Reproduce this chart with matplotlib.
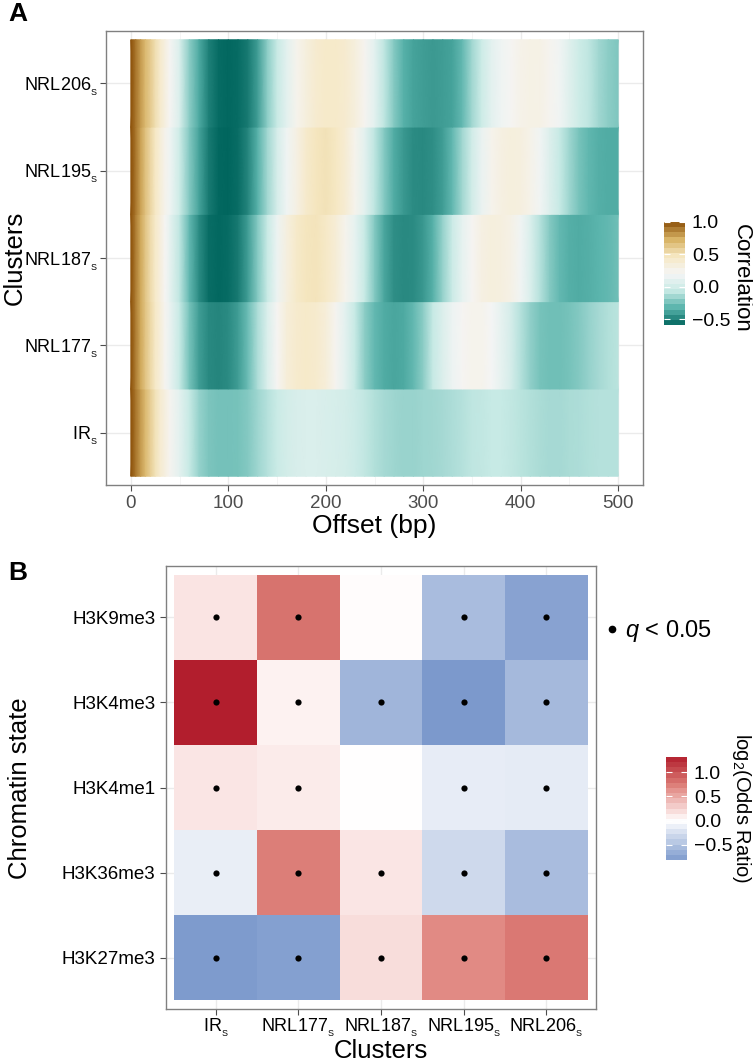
import numpy as np
import matplotlib
matplotlib.use('Agg')
import matplotlib.pyplot as plt
from matplotlib.colors import LinearSegmentedColormap, Normalize
from matplotlib.lines import Line2D
import matplotlib.cm as cm

plt.rcParams['font.family'] = ['Liberation Sans', 'DejaVu Sans']
plt.rcParams['mathtext.fontset'] = 'custom'
plt.rcParams['mathtext.rm'] = 'Liberation Sans'
plt.rcParams['mathtext.it'] = 'Liberation Sans:italic'
plt.rcParams['mathtext.bf'] = 'Liberation Sans:bold'

# ---------------- Panel A data ----------------
clusters = ['IR', 'NRL177', 'NRL187', 'NRL195', 'NRL206']
offsets = [0, 5, 10, 15, 20, 25, 30, 35, 40, 50, 60, 70, 80, 90, 100, 110, 120, 130, 140,
           150, 160, 170, 180, 190, 200, 210, 220, 230, 240, 250, 260, 270, 280, 290, 300,
           310, 320, 330, 340, 350, 360, 370, 380, 390, 400, 410, 420, 430, 440, 450, 460,
           470, 480, 490, 500]

corr_IR = [1.0, 0.9, 0.8, 0.7, 0.6, 0.5, 0.4, 0.32, 0.24, 0.1, -0.06, -0.18, -0.24, -0.26,
           -0.26, -0.25, -0.22, -0.16, -0.1, -0.04, 0.01, 0.04, 0.05, 0.05, 0.04, 0.03, 0.01,
           -0.03, -0.07, -0.11, -0.14, -0.16, -0.17, -0.17, -0.16, -0.15, -0.14, -0.12, -0.1,
           -0.08, -0.07, -0.06, -0.06, -0.07, -0.09, -0.11, -0.13, -0.14, -0.14, -0.13, -0.12,
           -0.11, -0.1, -0.1, -0.1]
corr_NRL177 = [1.0, 0.88, 0.76, 0.65, 0.55, 0.45, 0.35, 0.24, 0.14, -0.06, -0.25, -0.4, -0.47,
               -0.48, -0.46, -0.4, -0.28, -0.12, 0.05, 0.22, 0.35, 0.41, 0.43, 0.41, 0.35, 0.24,
               0.1, -0.06, -0.2, -0.3, -0.35, -0.37, -0.36, -0.3, -0.2, -0.06, 0.06, 0.16, 0.22,
               0.25, 0.25, 0.2, 0.12, 0.02, -0.1, -0.19, -0.25, -0.27, -0.27, -0.25, -0.22,
               -0.18, -0.14, -0.11, -0.09]
corr_NRL187 = [1.0, 0.88, 0.76, 0.64, 0.54, 0.44, 0.34, 0.22, 0.12, -0.08, -0.3, -0.46, -0.56,
               -0.58, -0.57, -0.52, -0.4, -0.22, -0.05, 0.15, 0.32, 0.43, 0.48, 0.49, 0.45, 0.37,
               0.25, 0.12, -0.05, -0.22, -0.37, -0.45, -0.47, -0.46, -0.42, -0.33, -0.18, -0.03,
               0.12, 0.22, 0.3, 0.33, 0.32, 0.28, 0.18, 0.05, -0.1, -0.22, -0.3, -0.34, -0.35,
               -0.34, -0.32, -0.3, -0.27]
corr_NRL195 = [1.0, 0.9, 0.78, 0.66, 0.56, 0.46, 0.36, 0.26, 0.17, -0.02, -0.22, -0.38, -0.52,
               -0.58, -0.59, -0.56, -0.48, -0.33, -0.15, 0.02, 0.17, 0.3, 0.42, 0.48, 0.5, 0.47,
               0.38, 0.25, 0.1, -0.08, -0.22, -0.35, -0.42, -0.46, -0.47, -0.45, -0.4, -0.3,
               -0.15, 0.0, 0.14, 0.25, 0.31, 0.33, 0.32, 0.27, 0.18, 0.06, -0.06, -0.16, -0.25,
               -0.31, -0.34, -0.35, -0.35]
corr_NRL206 = [1.0, 0.9, 0.8, 0.7, 0.62, 0.52, 0.42, 0.32, 0.22, 0.05, -0.2, -0.36, -0.5, -0.57,
               -0.58, -0.57, -0.52, -0.4, -0.2, -0.05, 0.1, 0.25, 0.33, 0.4, 0.43, 0.43, 0.4,
               0.33, 0.24, 0.1, -0.08, -0.22, -0.33, -0.38, -0.4, -0.41, -0.4, -0.38, -0.3,
               -0.15, -0.02, 0.1, 0.17, 0.22, 0.27, 0.29, 0.28, 0.24, 0.18, 0.08, -0.02, -0.08,
               -0.15, -0.2, -0.23]
corr_rows = [corr_IR, corr_NRL177, corr_NRL187, corr_NRL195, corr_NRL206]

# ---------------- Panel B data ----------------
states = ['H3K27me3', 'H3K36me3', 'H3K4me1', 'H3K4me3', 'H3K9me3']   # bottom -> top
lor_H3K27me3 = [-0.80, -0.76, 0.20, 0.68, 0.77]
lor_H3K36me3 = [-0.14, 0.74, 0.15, -0.30, -0.54]
lor_H3K4me1 = [0.15, 0.12, 0.00, -0.15, -0.16]
lor_H3K4me3 = [1.31, 0.08, -0.59, -0.81, -0.56]
lor_H3K9me3 = [0.16, 0.80, 0.02, -0.54, -0.74]
lor_rows = [lor_H3K27me3, lor_H3K36me3, lor_H3K4me1, lor_H3K4me3, lor_H3K9me3]
sig_H3K27me3 = [1, 1, 1, 1, 1]
sig_H3K36me3 = [1, 1, 1, 1, 1]
sig_H3K4me1 = [1, 1, 0, 1, 1]
sig_H3K4me3 = [1, 1, 1, 1, 1]
sig_H3K9me3 = [1, 1, 0, 1, 1]
sig_rows = [sig_H3K27me3, sig_H3K36me3, sig_H3K4me1, sig_H3K4me3, sig_H3K9me3]

# ---------------- figure ----------------
W, H = 753, 1062
fig = plt.figure(figsize=(W / 100, H / 100), dpi=100)


def fa(l, t, r, b):
    return [l / W, 1 - b / H, (r - l) / W, (b - t) / H]


def sublab(name):
    return name + r'$_{_\mathregular{S}}$'


FRAME = '#808080'
GRID = '#ebebeb'
TICKC = '#4d4d4d'
TICKFS = 13
TITLEFS = 18.5

# ---------------- Panel A ----------------
axA = fig.add_axes(fa(106, 31, 643, 485))
cmapA = LinearSegmentedColormap.from_list(
    'brbg', ['#01665e', '#5ab4ac', '#c7eae5', '#f5f5f5', '#f6e8c3', '#d8b365', '#8c510a'])
vminA, vmaxA = -0.59, 1.0
normA = Normalize(vminA, vmaxA)
off = np.array(offsets, dtype=float)
for i, vals in enumerate(corr_rows):
    v = np.array(vals, dtype=float)
    X = np.vstack([off, off])
    Y = np.vstack([np.full_like(off, i + 0.5), np.full_like(off, i + 1.5)])
    C = np.vstack([v, v])
    axA.pcolormesh(X, Y, C, shading='gouraud', cmap=cmapA, norm=normA, zorder=2)

axA.set_xlim(-25.5, 525.5)
axA.set_ylim(0.4, 5.6)
axA.set_xticks(range(0, 501, 100))
axA.set_xticks(range(50, 500, 100), minor=True)
axA.set_yticks(range(1, 6))
axA.set_yticklabels([sublab(c) for c in clusters], fontsize=TICKFS, color='black')
axA.tick_params(axis='x', labelsize=13.5, labelcolor=TICKC, colors=TICKC, length=4,
                width=0.8)
axA.tick_params(axis='y', colors=TICKC, length=4, width=0.8, labelcolor='black', pad=2)
axA.tick_params(axis='x', which='minor', length=0)
axA.grid(True, which='major', color=GRID, lw=1.0, zorder=0)
axA.grid(True, which='minor', axis='x', color='#f4f4f4', lw=0.6, zorder=0)
axA.set_axisbelow(True)
for s in axA.spines.values():
    s.set_color(FRAME)
    s.set_linewidth(1.0)
axA.set_xlabel('Offset (bp)', fontsize=19, labelpad=1)
fig.text(22 / W, 1 - 258 / H, 'Clusters', rotation=90, fontsize=TITLEFS,
         ha='center', va='baseline', rotation_mode='anchor')
fig.text(8 / W, 1 - 14 / H, 'A', fontsize=19, fontweight='bold', va='center', ha='left')

caxA = fig.add_axes(fa(664, 222, 685, 325))
smA = cm.ScalarMappable(norm=normA, cmap=cmapA)
cbA = fig.colorbar(smA, cax=caxA, boundaries=np.linspace(vminA, vmaxA, 21),
                   ticks=[-0.5, 0.0, 0.5, 1.0])
cbA.outline.set_visible(False)
cbA.ax.set_yticklabels(['\u22120.5', '0.0', '0.5', '1.0'])
caxA.tick_params(axis='y', left=True, right=True, direction='in', color='white', length=4,
                 width=0.8, labelsize=14, labelleft=False, labelright=True, pad=5)
fig.text(741 / W, 1 - 278 / H, 'Correlation', rotation=270, fontsize=16,
         ha='center', va='center')

# ---------------- Panel B ----------------
axB = fig.add_axes(fa(166, 566, 596, 1009))
lim = 1.31
cmapB = LinearSegmentedColormap.from_list(
    'rdbu2', [(0.0, '#2d5cae'), (0.5, '#ffffff'), (0.56, '#fae4e3'), (0.76, '#e18a84'),
              (0.80, '#d97671'), (1.0, '#b21e2d')])
normB = Normalize(-lim, lim)
M = np.array(lor_rows, dtype=float)
xe = np.arange(0.5, 6.0, 1.0)
ye = np.arange(0.5, 6.0, 1.0)
axB.pcolormesh(xe, ye, M, cmap=cmapB, norm=normB, zorder=2)
S = np.array(sig_rows)
for r in range(len(states)):
    for c in range(len(clusters)):
        if S[r, c]:
            axB.scatter(c + 1, r + 1, s=20, color='black', zorder=3, linewidths=0)
axB.set_xlim(0.4, 5.6)
axB.set_ylim(0.4, 5.6)
axB.set_xticks(range(1, 6))
axB.set_xticklabels([sublab(c) for c in clusters], fontsize=TICKFS, color='black')
axB.set_yticks(range(1, 6))
axB.set_yticklabels(states, fontsize=13.5, color='black')
axB.tick_params(colors=TICKC, length=4, width=0.8, labelcolor='black')
axB.tick_params(axis='x', pad=1.5)
axB.grid(True, color=GRID, lw=1.0, zorder=0)
axB.set_axisbelow(True)
for s in axB.spines.values():
    s.set_color(FRAME)
    s.set_linewidth(1.0)
fig.text(381 / W, 1 - 1058 / H, 'Clusters', fontsize=TITLEFS, ha='center', va='baseline')
fig.text(20 / W, 1 - 788 / H, 'Chromatin state', rotation=90, fontsize=TITLEFS,
         ha='center', va='center')
fig.text(8 / W, 1 - 573 / H, 'B', fontsize=19, fontweight='bold', va='center', ha='left')

handle = Line2D([], [], marker='o', color='black', linestyle='none', markersize=4.5)
fig.legend([handle], [r'$q$ < 0.05'], loc='center left',
           bbox_to_anchor=(606 / W, 1 - 631 / H), frameon=False, fontsize=17,
           handlelength=0.5, handletextpad=0.3, borderpad=0, borderaxespad=0)

vminB, vmaxB = float(M.min()), float(M.max())
caxB = fig.add_axes(fa(666, 757, 687, 860))
smB = cm.ScalarMappable(norm=normB, cmap=cmapB)
cbB = fig.colorbar(smB, cax=caxB, boundaries=np.linspace(vminB, vmaxB, 21),
                   ticks=[-0.5, 0.0, 0.5, 1.0])
cbB.outline.set_visible(False)
cbB.ax.set_yticklabels(['\u22120.5', '0.0', '0.5', '1.0'])
caxB.tick_params(axis='y', left=True, right=True, direction='in', color='white', length=4,
                 width=0.8, labelsize=14, labelleft=False, labelright=True, pad=5)
fig.text(741 / W, 1 - 808 / H, r'log$_2$(Odds Ratio)', rotation=270, fontsize=14.5,
         ha='center', va='center')

fig.savefig('out.png', dpi=100)
